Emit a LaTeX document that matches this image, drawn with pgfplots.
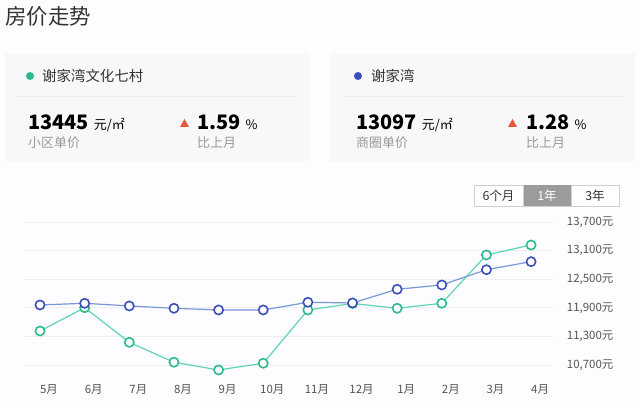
\documentclass[border=0pt]{standalone}
\usepackage{pgfplots}
\pgfplotsset{compat=1.18}
\usepackage{fontspec}
\setmainfont{Noto Sans CJK SC}
\definecolor{bg}{HTML}{FDFCFE}
\definecolor{card}{HTML}{F8F8FA}
\definecolor{sep}{HTML}{F0F0F3}
\definecolor{gline}{HTML}{5ED6B6}
\definecolor{gmark}{HTML}{2DBA8C}
\definecolor{bline}{HTML}{7A98D8}
\definecolor{bmark}{HTML}{3B4FB8}
\definecolor{txt}{HTML}{333333}
\definecolor{sub}{HTML}{9A9A9A}
\definecolor{up}{HTML}{E8563A}
\definecolor{gridc}{HTML}{EFEFF3}
\definecolor{btnb}{HTML}{CFCFCF}
\definecolor{btnf}{HTML}{9B9B9B}
\definecolor{tick}{HTML}{555555}

\pgfplotstableread{
x green blue
0 11413 11959
1 11902 11994
2 11176 11938
3 10757 11889
4 10595 11854
5 10736 11854
6 11854 12015
7 11990 12001
8 11889 12288
9 11994 12378
10 13008 12699
11 13217 12867
}\prices

\begin{document}
\begin{tikzpicture}
\fill[bg] (0,0) rectangle (640bp,408bp);
\path[use as bounding box] (0,0) rectangle (640bp,408bp);
\begin{scope}[x=1bp,y=-1bp,shift={(0,408bp)}]
\node[anchor=west, inner sep=0, font=\fontsize{21.5}{21.5}\selectfont, text=txt] at (5,16) {房价走势};
% cards
\fill[card] (5,53) rectangle (310,161);
\fill[card] (330,53) rectangle (635,162);
\draw[sep, line width=1bp] (15,97) -- (300,97);
\draw[sep, line width=1bp] (340,97) -- (625,97);
% left card
\fill[gmark] (30,76) circle (4);
\node[anchor=west, inner sep=0, font=\fontsize{14.5}{14.5}\selectfont, text=txt] at (42,76) {谢家湾文化七村};
\node[anchor=base west, inner sep=0, text=black] at (28,130) {\fontsize{20}{20}\selectfont\bfseries 13445\hspace{5bp}\fontsize{13}{13}\selectfont\mdseries 元/㎡};
\node[anchor=west, inner sep=0, font=\fontsize{13}{13}\selectfont, text=sub] at (28,143) {小区单价};
\fill[up] (184.5,119) -- (189,127) -- (180,127) -- cycle;
\node[anchor=base west, inner sep=0, text=black] at (197,130) {\fontsize{20}{20}\selectfont\bfseries 1.59\hspace{5bp}\fontsize{13}{13}\selectfont\mdseries \%};
\node[anchor=west, inner sep=0, font=\fontsize{13}{13}\selectfont, text=sub] at (197,143) {比上月};
% right card
\fill[bmark] (358,76) circle (4);
\node[anchor=west, inner sep=0, font=\fontsize{14.5}{14.5}\selectfont, text=txt] at (371,76) {谢家湾};
\node[anchor=base west, inner sep=0, text=black] at (356,130) {\fontsize{20}{20}\selectfont\bfseries 13097\hspace{5bp}\fontsize{13}{13}\selectfont\mdseries 元/㎡};
\node[anchor=west, inner sep=0, font=\fontsize{13}{13}\selectfont, text=sub] at (356,143) {商圈单价};
\fill[up] (512.5,119) -- (517,127) -- (508,127) -- cycle;
\node[anchor=base west, inner sep=0, text=black] at (526,130) {\fontsize{20}{20}\selectfont\bfseries 1.28\hspace{5bp}\fontsize{13}{13}\selectfont\mdseries \%};
\node[anchor=west, inner sep=0, font=\fontsize{13}{13}\selectfont, text=sub] at (526,143) {比上月};
% buttons
\filldraw[fill=white, draw=btnb] (474,185) rectangle (619,206);
\fill[btnf] (523,185) rectangle (571,206);
\draw[btnb] (523,185) -- (523,206) (571,185) -- (571,206);
\node[font=\fontsize{12.5}{12.5}\selectfont, text=txt, inner sep=0] at (498.5,195.5) {6个月};
\node[font=\fontsize{12.5}{12.5}\selectfont, text=white, inner sep=0] at (547,195.5) {1年};
\node[font=\fontsize{12.5}{12.5}\selectfont, text=txt, inner sep=0] at (595,195.5) {3年};
\end{scope}
\begin{axis}[
  at={(24.4bp,33.5bp)}, anchor=south west,
  scale only axis, width=529bp, height=157.3bp,
  xmin=-0.35, xmax=11.5, ymin=10500, ymax=13800,
  axis line style={draw=none}, tick style={draw=none},
  scaled y ticks=false,
  xtick={0,...,11},
  xticklabels={5月,6月,7月,8月,9月,10月,11月,12月,1月,2月,3月,4月},
  xticklabel style={anchor=center, yshift=-14.5bp, xshift=9bp, font=\fontsize{11.5}{11.5}\selectfont, text=tick},
  ytick={10700,11300,11900,12500,13100,13700},
  yticklabels={{10,700元},{11,300元},{11,900元},{12,500元},{13,100元},{13,700元}},
  yticklabel pos=right,
  yticklabel style={anchor=west, xshift=10bp, font=\fontsize{11.5}{11.5}\selectfont, text=tick},
  ymajorgrids, grid style={gridc, line width=0.8bp},
  clip=false,
]
\addplot[gline, line width=1.2bp, mark=*, mark size=4.6bp, mark options={fill=white, draw=gmark, line width=1.6bp}] table[x=x, y=green] {\prices};
\addplot[bline, line width=1.2bp, mark=*, mark size=4.6bp, mark options={fill=white, draw=bmark, line width=1.6bp}] table[x=x, y=blue] {\prices};
\end{axis}
\end{tikzpicture}
\end{document}
